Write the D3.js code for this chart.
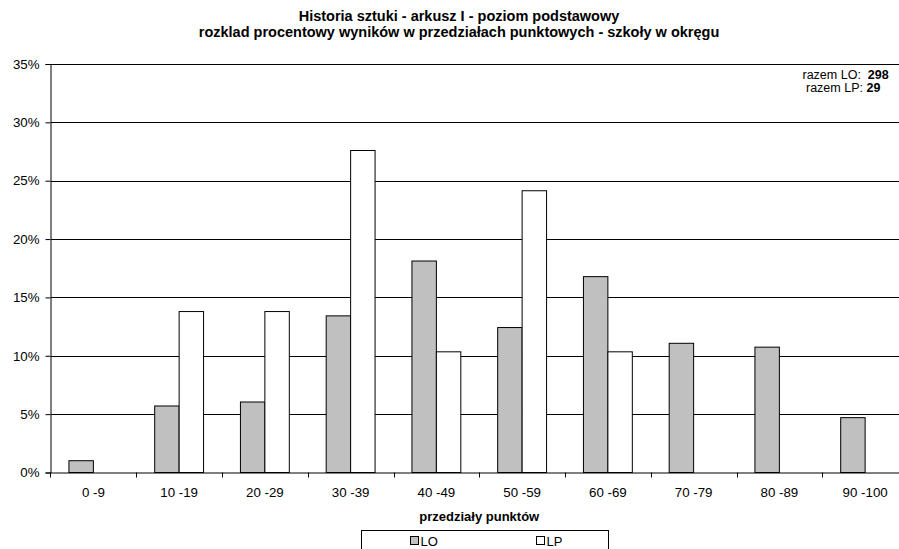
<!DOCTYPE html>
<html>
<head>
<meta charset="utf-8">
<script src="https://cdn.jsdelivr.net/npm/d3@7"></script>
<style>
  html, body { margin: 0; padding: 0; background: #fff; }
  svg { display: block; font-family: "Liberation Sans", Arial, sans-serif; }
</style>
</head>
<body>
<svg id="chart" width="899" height="549"></svg>
<script>
const categories = ["0 -9", "10 -19", "20 -29", "30 -39", "40 -49", "50 -59", "60 -69", "70 -79", "80 -89", "90 -100"];
const seriesNames = ["LO", "LP"];
const valuesLO = [1.01, 5.70, 6.04, 13.42, 18.12, 12.42, 16.78, 11.07, 10.74, 4.70];
const valuesLP = [0, 13.79, 13.79, 27.59, 10.34, 24.14, 10.34, 0, 0, 0];
const yTicks = [0, 5, 10, 15, 20, 25, 30, 35];
const titleLines = ["Historia sztuki - arkusz I - poziom podstawowy", "rozklad procentowy wyników w przedziałach punktowych - szkoły w okręgu"];
const xTitle = "przedziały punktów";
const totals = [["razem LO:\u00a0\u00a0", "298"], ["razem LP:\u00a0", "29"]];
const fills = { LO: "#c0c0c0", LP: "#ffffff" };

(function () {
const svg = d3.select("#chart");
const pL = 50.5, pR = 908, pT = 64, pB = 472.5;

const x0 = d3.scaleBand().domain(categories).range([pL, pR]).paddingInner(0.43).paddingOuter(0.215);
const x1 = d3.scaleBand().domain(seriesNames).range([0, x0.bandwidth()]);
const y = d3.scaleLinear().domain([0, 35]).range([pB, pT]);
const step = x0.step();

// gridlines
svg.append("g").selectAll("line").data(yTicks.filter(d => d > 0)).join("line")
  .attr("x1", pL).attr("x2", pR)
  .attr("y1", d => Math.round(y(d)) + 0.5).attr("y2", d => Math.round(y(d)) + 0.5)
  .attr("stroke", "#000").attr("stroke-width", 1).attr("shape-rendering", "crispEdges");

// bars
const data = [];
categories.forEach((c, i) => {
  data.push({ cat: c, s: "LO", v: valuesLO[i] });
  data.push({ cat: c, s: "LP", v: valuesLP[i] });
});
svg.append("g").selectAll("rect").data(data.filter(d => d.v > 0)).join("rect")
  .attr("x", d => x0(d.cat) + x1(d.s))
  .attr("y", d => y(d.v))
  .attr("width", x1.bandwidth())
  .attr("height", d => y(0) - y(d.v))
  .attr("fill", d => fills[d.s])
  .attr("stroke", "#000").attr("stroke-width", 1);

// y axis
const yAxis = d3.axisLeft(y).tickValues(yTicks).tickFormat(d => d + "%").tickSize(5).tickPadding(6);
const gy = svg.append("g").attr("transform", `translate(${pL},0)`).call(yAxis);
gy.select(".domain").attr("stroke", "#000");
gy.selectAll(".tick line").attr("stroke", "#000");
gy.selectAll(".tick text").attr("font-size", "13.3px").attr("fill", "#000").attr("font-family", "Liberation Sans, Arial, sans-serif");

// x axis
const xAxis = d3.axisBottom(x0).tickSize(0).tickPadding(15);
const gx = svg.append("g").attr("transform", `translate(0,${pB})`).call(xAxis);
gx.select(".domain").attr("stroke", "#000");
gx.selectAll(".tick text").attr("font-size", "13.3px").attr("fill", "#000").attr("font-family", "Liberation Sans, Arial, sans-serif");
// boundary ticks
const bounds = categories.map(c => x0(c) - x0.paddingOuter() * step);
svg.append("g").selectAll("line").data(bounds).join("line")
  .attr("x1", d => Math.round(d) + 0.5).attr("x2", d => Math.round(d) + 0.5)
  .attr("y1", pB).attr("y2", pB + 5)
  .attr("stroke", "#000");

// title
svg.append("g").selectAll("text").data(titleLines).join("text")
  .attr("x", 459).attr("y", (d, i) => 20.5 + i * 16)
  .attr("text-anchor", "middle").attr("font-weight", "bold").attr("font-size", "14.5px")
  .text(d => d);

// x axis title
svg.append("text").attr("x", (pL + pR) / 2).attr("y", 521)
  .attr("text-anchor", "middle").attr("font-weight", "bold").attr("font-size", "13px")
  .text(xTitle);

// totals annotation
const annX = [802.5, 806];
const ann = svg.append("g").selectAll("text").data(totals).join("text")
  .attr("x", (d, i) => annX[i]).attr("y", (d, i) => 78.5 + i * 13.3)
  .attr("text-anchor", "start").attr("font-size", "12.5px");
ann.append("tspan").text(d => d[0]);
ann.append("tspan").attr("font-weight", "bold").text(d => d[1]);

// legend
const lg = svg.append("g");
lg.append("rect").attr("x", 361.5).attr("y", 530.5).attr("width", 247).attr("height", 30)
  .attr("fill", "#fff").attr("stroke", "#000");
const legendX = [410.5, 536.5];
seriesNames.forEach((s, i) => {
  lg.append("rect").attr("x", legendX[i]).attr("y", 536.5).attr("width", 8).attr("height", 8)
    .attr("fill", fills[s]).attr("stroke", "#000");
  lg.append("text").attr("x", legendX[i] + 10).attr("y", 545.5).attr("font-size", "13px").text(s);
});
})();
</script>
</body>
</html>
